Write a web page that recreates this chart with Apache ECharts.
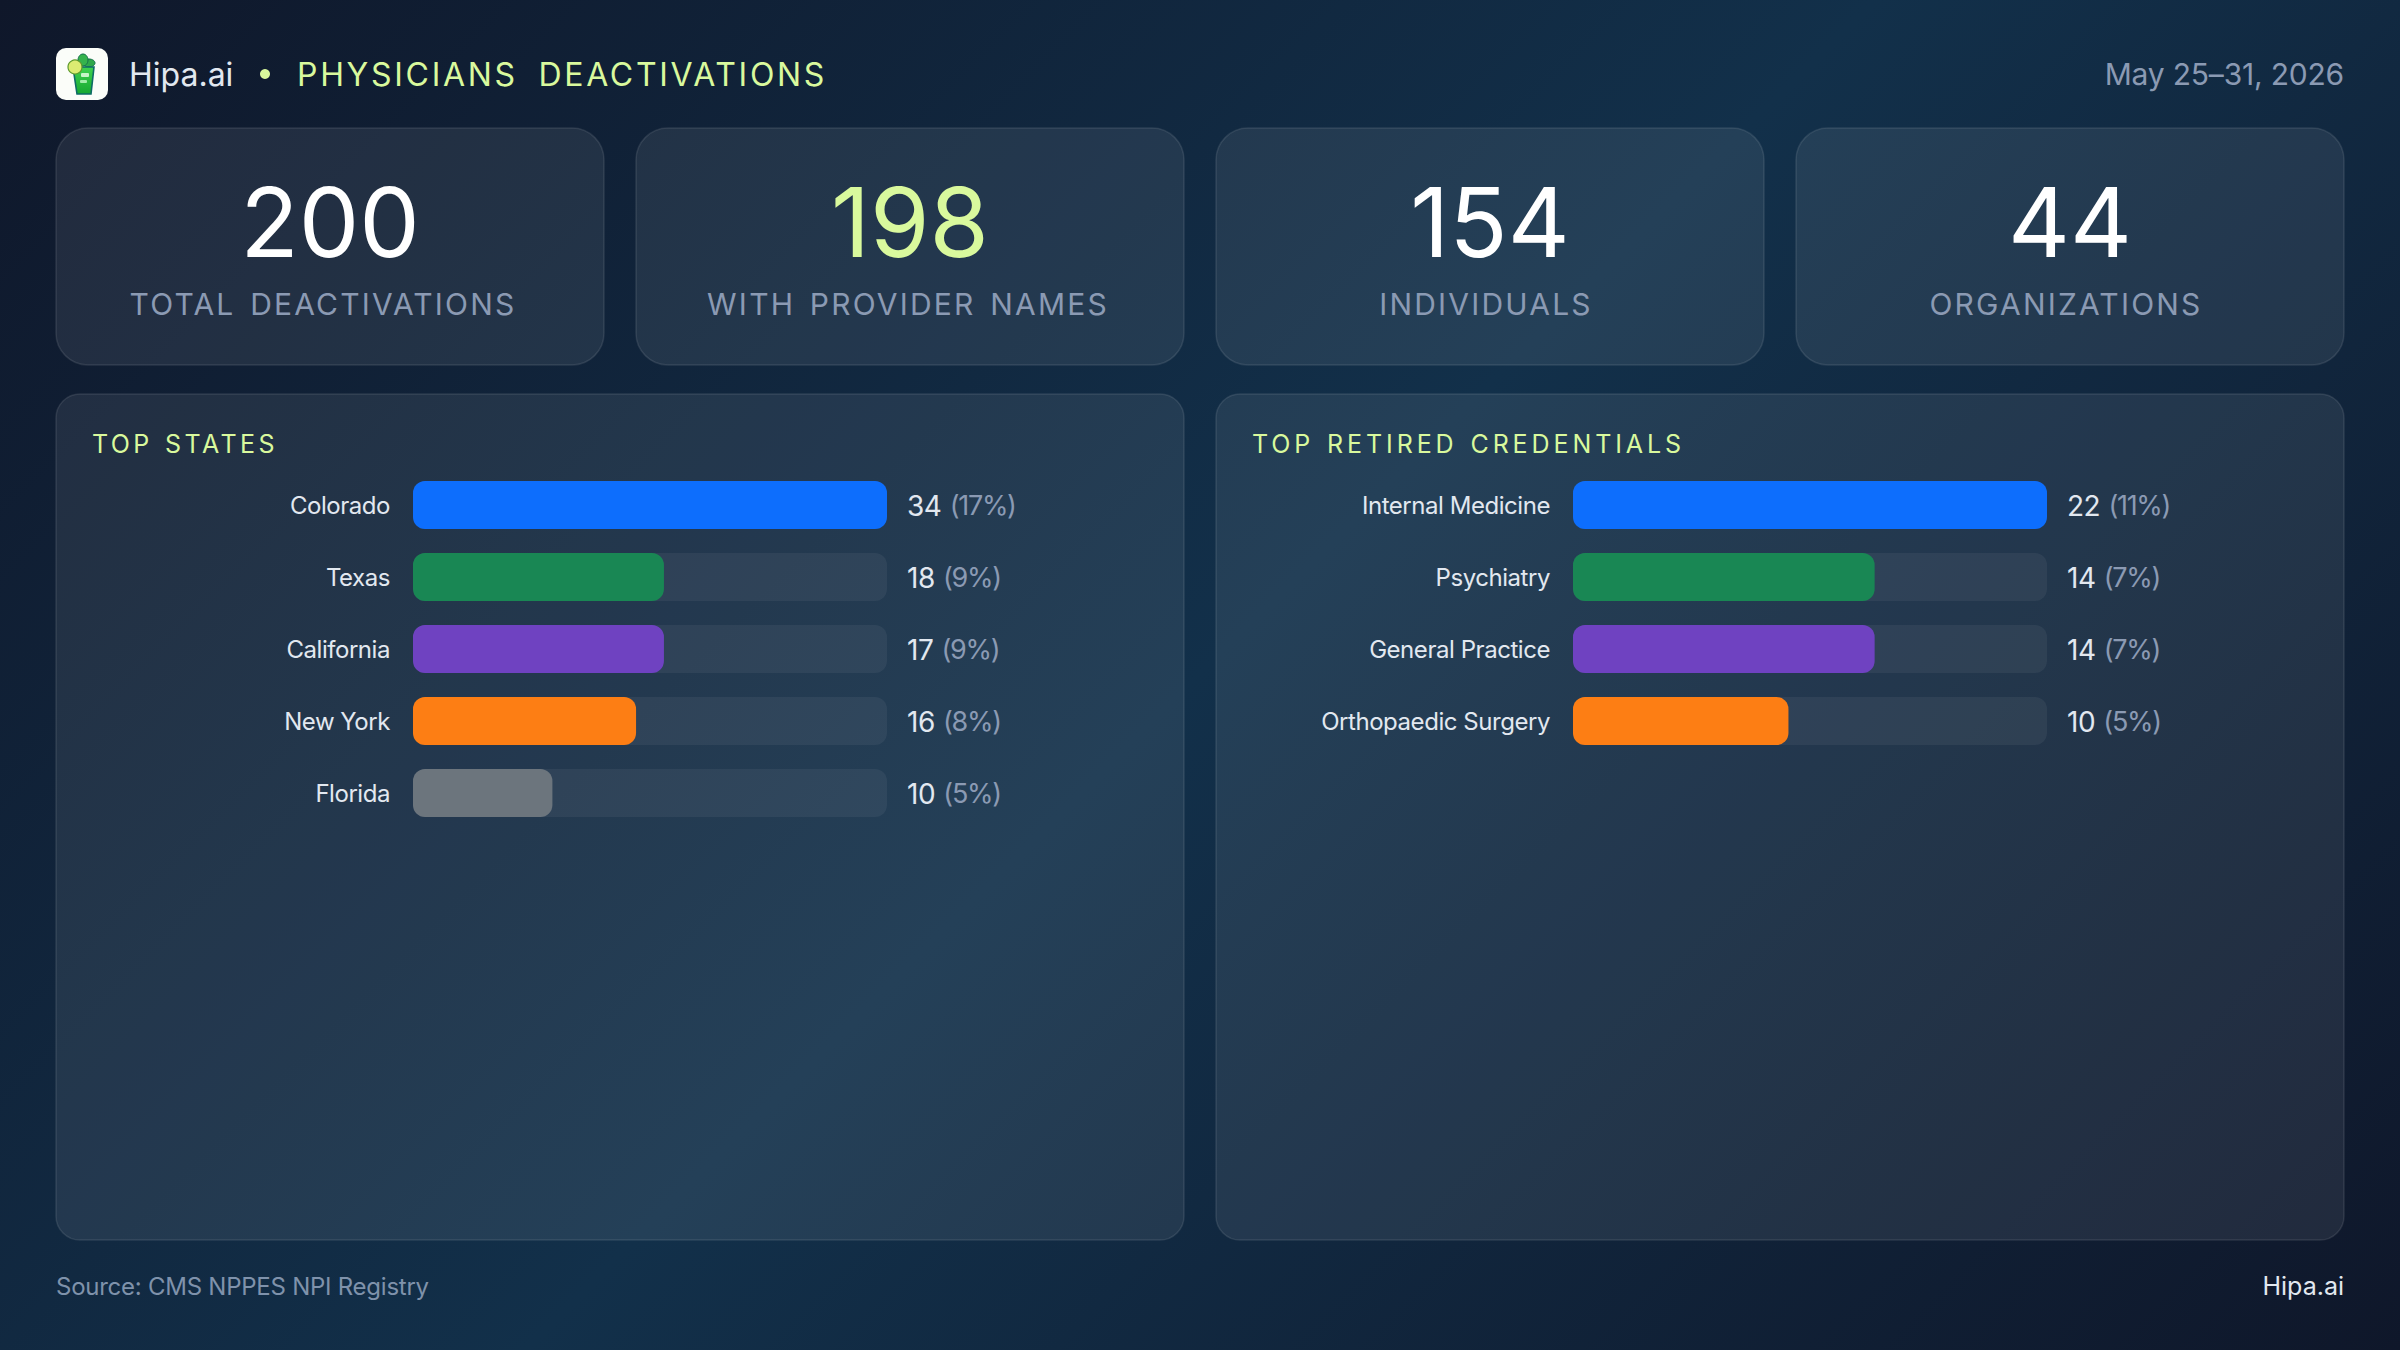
<!DOCTYPE html>
<html>
<head>
<meta charset="utf-8">
<title>Physicians Deactivations</title>
<style>
  html, body { margin: 0; padding: 0; background: #0f172a; }
  #chart { width: 2400px; height: 1350px; }
</style>
<script src="https://cdn.jsdelivr.net/npm/echarts@6/dist/echarts.min.js"></script>
</head>
<body>
<div id="chart"></div>
<script>
// Headline figures
const statValues = ['200', '198', '154', '44'];
const statLabels = ['TOTAL DEACTIVATIONS', 'WITH PROVIDER NAMES', 'INDIVIDUALS', 'ORGANIZATIONS'];
const statLabelCentres = [323, 908, 1486, 2066];

// Top states
const stateNames = ['Colorado', 'Texas', 'California', 'New York', 'Florida'];
const stateCounts = [34, 18, 17, 16, 10];
const statePercents = [17, 9, 9, 8, 5];

// Top retired credentials
const credentialNames = ['Internal Medicine', 'Psychiatry', 'General Practice', 'Orthopaedic Surgery'];
const credentialCounts = [22, 14, 14, 10];
const credentialPercents = [11, 7, 7, 5];

const barColors = ['#0d6efd', '#198754', '#6f42c1', '#fd7e14', '#6c757d'];

const FONT = 'Inter';
const LIME = '#d9f99d';
const MUTED = '#8b9ab3';
const SOFT = '#e2e8f0';

// Tracking per string as [letter spacing, word spacing], applied to the SVG text nodes after rendering
const tracking = {
  'PHYSICIANS DEACTIVATIONS': [2.7, 9],
  'TOTAL DEACTIVATIONS': [2.2, 4],
  'WITH PROVIDER NAMES': [2.2, 4],
  'INDIVIDUALS': [2.2, 0],
  'ORGANIZATIONS': [2.2, 0],
  'TOP STATES': [3.4, 2],
  'TOP RETIRED CREDENTIALS': [3.9, 2],
  'May 25\u201331, 2026': [-0.2, 0],
  'Source: CMS NPPES NPI Registry': [-0.25, 0]
};
stateNames.concat(credentialNames).forEach(function (name) { tracking[name] = [-0.45, 0]; });

const W = 2400, H = 1350;

// Three-stop wash along a 45 degree line, ends sitting on the far corners
function pageGradient() {
  const half = (W + H) / 4;
  return new echarts.graphic.LinearGradient(
    W / 2 - half, H / 2 - half,
    W / 2 + half, H / 2 + half,
    [
      { offset: 0, color: '#0f172a' },
      { offset: 0.5, color: '#12304a' },
      { offset: 1, color: '#0f172a' }
    ],
    true
  );
}

const glassFill = new echarts.graphic.LinearGradient(0, 0, 0, 1, [
  { offset: 0, color: '#3fd24f' },
  { offset: 1, color: '#16a832' }
]);

function panelRect(x, y, w, h, r) {
  return {
    type: 'rect',
    silent: true,
    shape: { x: x, y: y, width: w, height: h, r: r },
    style: { fill: 'rgba(255,255,255,0.08)', stroke: 'rgba(255,255,255,0.1)', lineWidth: 1.5 }
  };
}

function textEl(x, y, text, size, color, align, weight) {
  return {
    type: 'text',
    silent: true,
    x: x,
    y: y,
    style: {
      text: text,
      font: (weight || 400) + ' ' + size + 'px ' + FONT,
      fill: color,
      textAlign: align || 'left',
      textVerticalAlign: 'middle'
    }
  };
}

const cardW = 548, cardGap = 32, cardLeft = 56;
const elements = [];

// Brand mark: a lime drink on a white tile
elements.push(
  { type: 'rect', silent: true, shape: { x: 56, y: 48, width: 52, height: 52, r: 10 }, style: { fill: '#fbfdf9' } },
  { type: 'ellipse', silent: true, shape: { cx: 89, cy: 63, rx: 6, ry: 4 }, style: { fill: '#2fa84a', stroke: '#14704a', lineWidth: 1 } },
  { type: 'ellipse', silent: true, shape: { cx: 83, cy: 60, rx: 5, ry: 6 }, style: { fill: '#35b34d', stroke: '#14704a', lineWidth: 1 } },
  { type: 'polygon', silent: true, shape: { points: [[73, 67], [94, 67], [91, 94], [77, 94]] }, style: { fill: glassFill, stroke: '#0e6b66', lineWidth: 1.6 } },
  { type: 'rect', silent: true, shape: { x: 81, y: 73, width: 8, height: 4, r: 1 }, style: { fill: '#c6f5c8' } },
  { type: 'rect', silent: true, shape: { x: 80, y: 80, width: 7, height: 3, r: 1 }, style: { fill: '#a2edaa' } },
  { type: 'circle', silent: true, shape: { cx: 75, cy: 67, r: 7 }, style: { fill: '#dcec72', stroke: '#5d9a2c', lineWidth: 1.2 } }
);

// Header row
elements.push(
  textEl(129, 74, 'Hipa.ai', 32, SOFT),
  { type: 'circle', silent: true, shape: { cx: 265, cy: 74, r: 5 }, style: { fill: LIME } },
  textEl(297, 74, 'PHYSICIANS DEACTIVATIONS', 32, LIME),
  textEl(2344, 74, 'May 25\u201331, 2026', 30, MUTED, 'right')
);

// Stat cards
statValues.forEach(function (value, i) {
  const x = cardLeft + i * (cardW + cardGap);
  elements.push(
    panelRect(x, 128, cardW, 237, 32),
    textEl(x + cardW / 2, 222, value, 96, i === 1 ? LIME : '#ffffff', 'center'),
    textEl(statLabelCentres[i], 304, statLabels[i], 30, MUTED, 'center')
  );
});

// Chart panels and their titles
elements.push(
  panelRect(56, 394, 1128, 846, 24),
  panelRect(1216, 394, 1128, 846, 24),
  textEl(92, 444, 'TOP STATES', 25, LIME),
  textEl(1252, 444, 'TOP RETIRED CREDENTIALS', 25, LIME)
);

// Footer
elements.push(
  textEl(56, 1286, 'Source: CMS NPPES NPI Registry', 24, '#7f92ab'),
  textEl(2344, 1286, 'Hipa.ai', 25, SOFT, 'right')
);

const ROW = 72, BAR = 48, TRACK_W = 474, ROW_TOP = 469;

function leftAxis(names, gridIndex) {
  return {
    type: 'category', gridIndex: gridIndex, inverse: true, position: 'left', data: names,
    axisLine: { show: false }, axisTick: { show: false },
    axisLabel: { color: SOFT, fontFamily: FONT, fontSize: 24, margin: 23, align: 'right' }
  };
}

function rightAxis(counts, percents, gridIndex) {
  return {
    type: 'category', gridIndex: gridIndex, inverse: true, position: 'right',
    data: counts.map(function (c, i) { return c + '|' + percents[i]; }),
    axisLine: { show: false }, axisTick: { show: false },
    axisLabel: {
      margin: 20, align: 'left', fontFamily: FONT, fontSize: 26,
      formatter: function (v) {
        const parts = v.split('|');
        return '{c|' + parts[0] + '} {p|(' + parts[1] + '%)}';
      },
      rich: {
        c: { color: SOFT, fontFamily: FONT, fontSize: 28, padding: [1, 0, 0, 0] },
        p: { color: MUTED, fontFamily: FONT, fontSize: 27, padding: [1, 0, 0, 0] }
      }
    }
  };
}

function valueAxis(maxValue, gridIndex) {
  return {
    type: 'value', gridIndex: gridIndex, min: 0, max: maxValue,
    show: false, splitLine: { show: false }
  };
}

// Bar length follows the stated percentage, scaled to the panel's largest share
function barSeries(percents, axisIndexX, axisIndexY) {
  return {
    type: 'bar', xAxisIndex: axisIndexX, yAxisIndex: axisIndexY,
    barWidth: BAR, silent: true,
    showBackground: true,
    backgroundStyle: { color: 'rgba(255,255,255,0.055)', borderRadius: 12 },
    itemStyle: { borderRadius: 12 },
    data: percents.map(function (p, i) {
      return { value: p, itemStyle: { color: barColors[i], borderRadius: 12 } };
    })
  };
}

const chart = echarts.init(document.getElementById('chart'), null, { renderer: 'svg', width: W, height: H });

chart.setOption({
  animation: false,
  backgroundColor: pageGradient(),
  textStyle: { fontFamily: FONT },
  graphic: { elements: elements },
  grid: [
    { left: 413, top: ROW_TOP, width: TRACK_W, height: ROW * stateNames.length, containLabel: false },
    { left: 1573, top: ROW_TOP, width: TRACK_W, height: ROW * credentialNames.length, containLabel: false }
  ],
  xAxis: [
    valueAxis(Math.max.apply(null, statePercents), 0),
    valueAxis(Math.max.apply(null, credentialPercents), 1)
  ],
  yAxis: [
    leftAxis(stateNames, 0),
    rightAxis(stateCounts, statePercents, 0),
    leftAxis(credentialNames, 1),
    rightAxis(credentialCounts, credentialPercents, 1)
  ],
  series: [
    barSeries(statePercents, 0, 0),
    barSeries(credentialPercents, 1, 2)
  ]
});

// Tighten or open up the text nodes that carry custom tracking
document.querySelectorAll('#chart svg text').forEach(function (node) {
  const content = node.textContent.trim();
  let spacing = tracking[content];
  if (!spacing && /^\(\d+%\)$/.test(content)) spacing = [-1.3, 0];
  if (!spacing && /^\d+$/.test(content) && content.length === 2 && !statValues.includes(content)) spacing = [-0.5, 0];
  if (spacing) {
    node.style.letterSpacing = spacing[0] + 'px';
    node.style.wordSpacing = spacing[1] + 'px';
  }
});
</script>
</body>
</html>
